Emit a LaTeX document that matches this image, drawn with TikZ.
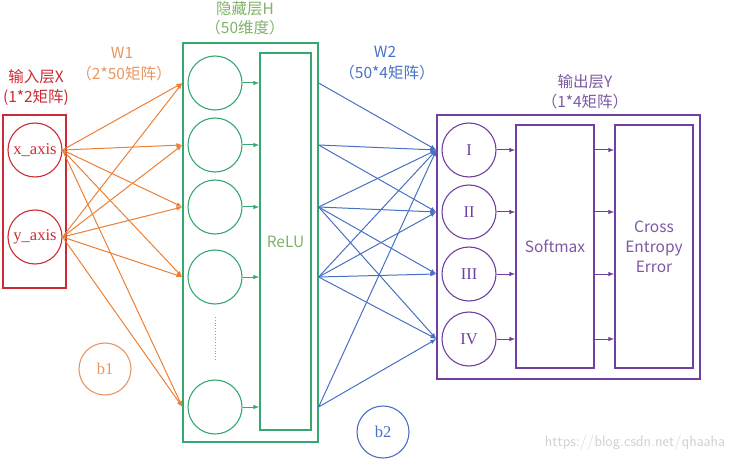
\documentclass[tikz,border=0pt]{standalone}
\usepackage{fontspec}
\setmainfont{Liberation Serif}
\newfontfamily\cjk{Noto Sans CJK SC}
\usetikzlibrary{arrows.meta}

\definecolor{inred}{RGB}{204,42,52}
\definecolor{worange}{RGB}{236,128,52}
\definecolor{borange}{RGB}{232,150,96}
\definecolor{hgreen}{RGB}{52,168,112}
\definecolor{hlabel}{RGB}{128,178,104}
\definecolor{wblue}{RGB}{72,112,196}
\definecolor{opurple}{RGB}{112,64,160}
\definecolor{olabel}{RGB}{124,88,164}

\tikzset{
  unit/.style={draw,circle,minimum size=54pt,inner sep=0pt,line width=1.1pt,font=\fontsize{16.5}{18}\selectfont},
  layerbox/.style={draw,line width=1.2pt,inner sep=0pt},
  title/.style={font=\cjk\fontsize{15.5}{18}\selectfont,inner sep=0pt},
  arr/.style={-{Latex[length=6pt,width=4.5pt]},line width=1pt}
}

\begin{document}
\begin{tikzpicture}[x=1pt,y=-1pt]
\useasboundingbox (0,0) rectangle (743,462);

% input layer
\node[layerbox,inred,minimum width=63pt,minimum height=173pt] (inbox) at (34.5,201.5) {};
\node[unit,inred] (xa) at (35,150) {x\_axis};
\node[unit,inred] (ya) at (35,237) {y\_axis};
\node[title,inred] (inname) at (36,77) {输入层X};
\node[title,inred] (insize) at (36,98) {(1*2矩阵)};

% hidden layer
\node[layerbox,hgreen,minimum width=135pt,minimum height=399pt] (hid) at (250.5,242.5) {};
\node[layerbox,hgreen,minimum width=51pt,minimum height=377pt,text=hlabel,font=\cjk\fontsize{15.5}{18}\selectfont] (relu) at (285.5,241.5) {ReLU};
\node[unit,hgreen] (h1) at (215,83) {};
\node[unit,hgreen] (h2) at (215,145) {};
\node[unit,hgreen] (h3) at (215,207) {};
\node[unit,hgreen] (h4) at (215,277) {};
\node[unit,hgreen] (h5) at (215,407) {};
\draw[hlabel,dotted,line width=0.8pt] (215,317)--(215,360);
\node[title,hlabel] (hname) at (245,9) {隐藏层H};
\node[title,hlabel] (hsize) at (245,28) {（50维度）};

% output layer
\node[layerbox,opurple,minimum width=263pt,minimum height=264pt] (out) at (568.5,247) {};
\node[unit,opurple] (o1) at (469,150) {I};
\node[unit,opurple] (o2) at (469,212) {II};
\node[unit,opurple] (o3) at (469,274) {III};
\node[unit,opurple] (o4) at (469,339) {IV};
\node[layerbox,opurple,minimum width=78pt,minimum height=243pt,text=olabel,font=\cjk\fontsize{15.5}{18}\selectfont] (soft) at (555,246.5) {Softmax};
\node[layerbox,opurple,minimum width=78pt,minimum height=243pt,text=olabel,font=\cjk\fontsize{15.5}{20}\selectfont,align=center] (cee) at (654,246.5) {Cross\\Entropy\\Error};
\node[title,olabel] (oname) at (585,82) {输出层Y};
\node[title,olabel] (osize) at (585,102) {（1*4矩阵）};

% biases
\node[unit,borange,minimum size=52pt] (b1) at (105,369) {b1};
\node[unit,wblue,minimum size=52pt] (b2) at (383,432) {b2};

% weight labels
\node[title,borange] (w1) at (122,53) {W1};
\node[title,borange] (w1size) at (124,74) {（2*50矩阵）};
\node[title,wblue] (w2) at (385,52) {W2};
\node[title,wblue] (w2size) at (387,73) {（50*4矩阵）};

% W1
\draw[arr,worange] (xa.east)--(h1 -| hid.west);
\draw[arr,worange] (xa.east)--(h2 -| hid.west);
\draw[arr,worange] (xa.east)--(h3 -| hid.west);
\draw[arr,worange] (xa.east)--(h4 -| hid.west);
\draw[arr,worange] (xa.east)--(h5 -| hid.west);
\draw[arr,worange] (ya.east)--(h1 -| hid.west);
\draw[arr,worange] (ya.east)--(h2 -| hid.west);
\draw[arr,worange] (ya.east)--(h3 -| hid.west);
\draw[arr,worange] (ya.east)--(h4 -| hid.west);
\draw[arr,worange] (ya.east)--(h5 -| hid.west);

% hidden -> ReLU
\draw[arr,hgreen] (h1.east)--(h1 -| relu.west);
\draw[arr,hgreen] (h2.east)--(h2 -| relu.west);
\draw[arr,hgreen] (h3.east)--(h3 -| relu.west);
\draw[arr,hgreen] (h4.east)--(h4 -| relu.west);
\draw[arr,hgreen] (h5.east)--(h5 -| relu.west);

% W2
\draw[arr,wblue] (h1 -| hid.east)--(o1 -| out.west);
\draw[arr,wblue] (h2 -| hid.east)--(o1 -| out.west);
\draw[arr,wblue] (h2 -| hid.east)--(o2 -| out.west);
\draw[arr,wblue] (h3 -| hid.east)--(o1 -| out.west);
\draw[arr,wblue] (h3 -| hid.east)--(o2 -| out.west);
\draw[arr,wblue] (h3 -| hid.east)--(o3 -| out.west);
\draw[arr,wblue] (h3 -| hid.east)--(o4 -| out.west);
\draw[arr,wblue] (h4 -| hid.east)--(o1 -| out.west);
\draw[arr,wblue] (h4 -| hid.east)--(o2 -| out.west);
\draw[arr,wblue] (h4 -| hid.east)--(o3 -| out.west);
\draw[arr,wblue] (h4 -| hid.east)--(o4 -| out.west);
\draw[arr,wblue] (h5 -| hid.east)--(o1 -| out.west);
\draw[arr,wblue] (h5 -| hid.east)--(o4 -| out.west);

% output -> Softmax -> error
\draw[arr,opurple] (o1.east)--(o1 -| soft.west);
\draw[arr,opurple] (o2.east)--(o2 -| soft.west);
\draw[arr,opurple] (o3.east)--(o3 -| soft.west);
\draw[arr,opurple] (o4.east)--(o4 -| soft.west);
\draw[arr,opurple] (o1 -| soft.east)--(o1 -| cee.west);
\draw[arr,opurple] (o2 -| soft.east)--(o2 -| cee.west);
\draw[arr,opurple] (o3 -| soft.east)--(o3 -| cee.west);
\draw[arr,opurple] (o4 -| soft.east)--(o4 -| cee.west);

\node[font=\sffamily\fontsize{15.5}{18}\selectfont,text=black!18] (mark) at (635,443) {https://blog.csdn.net/qhaaha};
\end{tikzpicture}
\end{document}
